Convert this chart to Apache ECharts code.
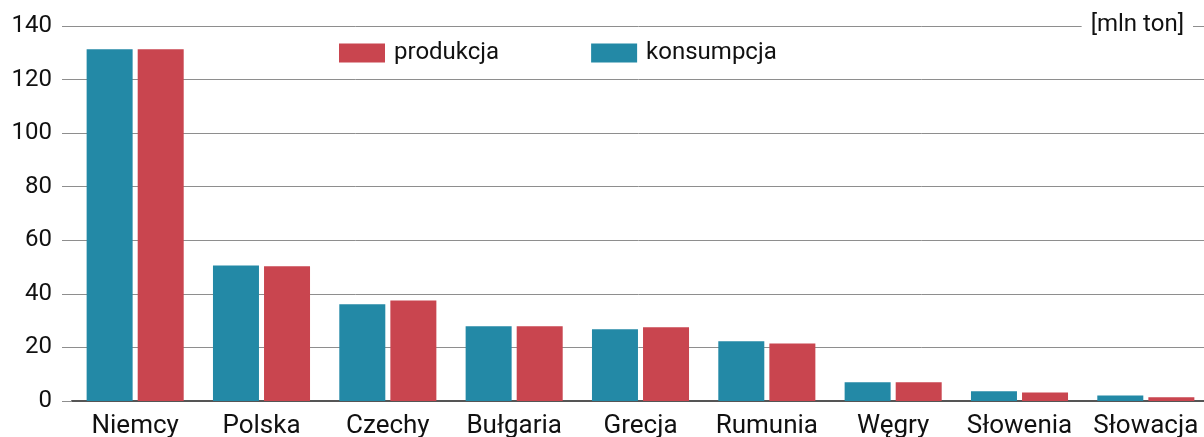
<!DOCTYPE html>
<html>
<head>
<meta charset="utf-8">
<script src="https://cdn.jsdelivr.net/npm/echarts@6/dist/echarts.min.js"></script>
<style>
  html, body { margin: 0; padding: 0; background: #fff; }
  #chart { width: 1204px; height: 437px; }
</style>
</head>
<body>
<div id="chart"></div>
<script>
// kraje
var kraje = ['Niemcy', 'Polska', 'Czechy', 'Bułgaria', 'Grecja', 'Rumunia', 'Węgry', 'Słowenia', 'Słowacja'];
// mln ton
var konsumpcja = [131.3, 50.6, 36.1, 27.9, 26.8, 22.3, 7.0, 3.6, 2.1];
var produkcja = [131.3, 50.3, 37.5, 27.9, 27.5, 21.5, 7.0, 3.2, 1.4];
var osY = [0, 20, 40, 60, 80, 100, 120, 140];

var kolorKons = '#2389a6';
var kolorProd = '#c9454f';
var kolorSiatki = '#8e8e8e';

var chart = echarts.init(document.getElementById('chart'));

chart.setOption({
    animation: false,
    textStyle: { fontFamily: 'Roboto' },
    title: {
        text: '[mln ton]',
        right: 11,
        top: 12,
        padding: [1, 9],
        backgroundColor: '#fff',
        textStyle: { fontFamily: 'Roboto', fontSize: 24, fontWeight: 'normal', color: '#111' }
    },
    legend: {
        left: 339,
        top: 41,
        padding: 0,
        icon: 'rect',
        itemWidth: 46,
        itemHeight: 19,
        itemGap: 92,
        data: ['produkcja', 'konsumpcja'],
        textStyle: { fontFamily: 'Roboto', fontSize: 24, color: '#111', padding: [0, 0, 0, 4] }
    },
    // siatka wychodzi poza prawy brzeg, ostatnia kategoria jest ucięta
    grid: { left: 72, width: 1137, top: 26, bottom: 36, outerBoundsMode: 'none', containLabel: false },
    xAxis: {
        type: 'category',
        data: kraje,
        axisTick: { show: false },
        axisLine: { lineStyle: { color: '#555', width: 2 } },
        axisLabel: { fontFamily: 'Roboto', fontSize: 26, color: '#111', margin: 12, interval: 0 }
    },
    yAxis: {
        type: 'value',
        min: osY[0],
        max: osY[osY.length - 1],
        interval: 20,
        axisLine: { show: false },
        axisTick: { show: true, length: 10, lineStyle: { color: kolorSiatki, width: 1 } },
        axisLabel: { fontFamily: 'Roboto', fontSize: 24, color: '#111', margin: 20 },
        splitLine: { lineStyle: { color: kolorSiatki, width: 1 } }
    },
    series: [
        {
            name: 'konsumpcja',
            type: 'bar',
            data: konsumpcja,
            barWidth: 46,
            barGap: '11%',
            itemStyle: { color: kolorKons }
        },
        {
            name: 'produkcja',
            type: 'bar',
            data: produkcja,
            barWidth: 46,
            barGap: '11%',
            itemStyle: { color: kolorProd }
        }
    ]
});
</script>
</body>
</html>
